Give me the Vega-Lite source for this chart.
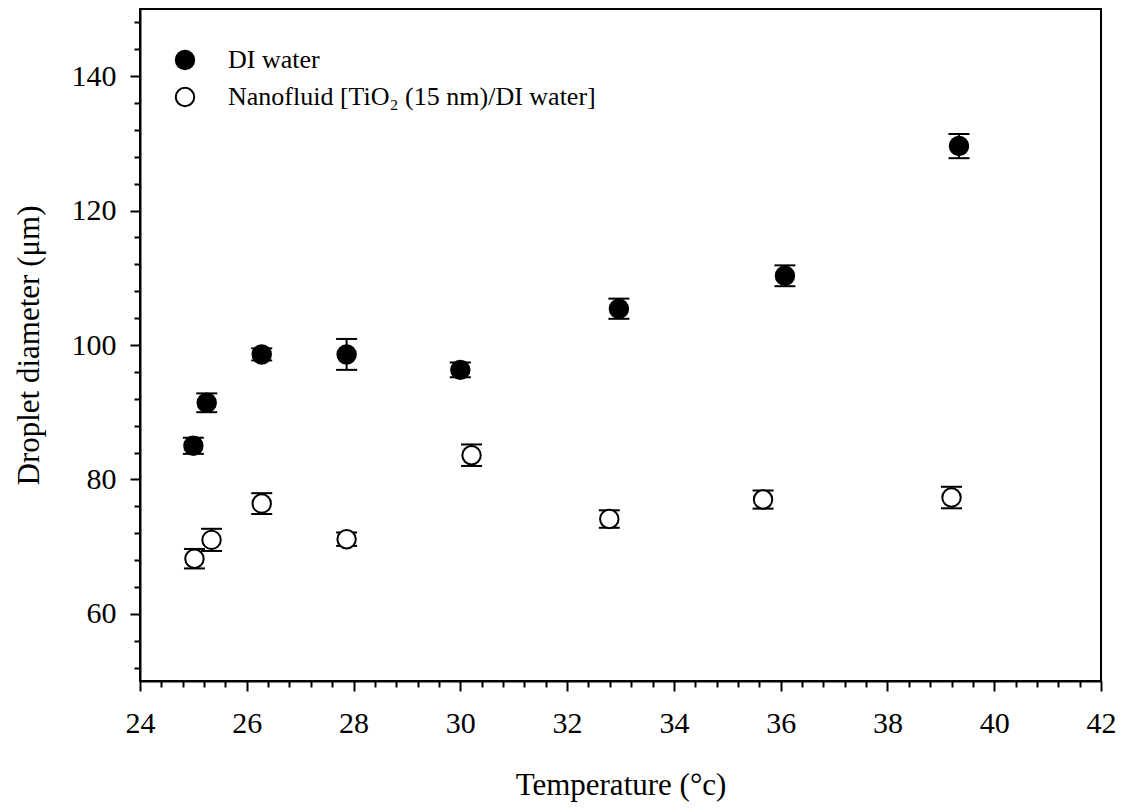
{
  "$schema": "https://vega.github.io/schema/vega-lite/v6.json",
  "autosize": "none",
  "width": 961,
  "height": 672,
  "padding": {"left": 140, "top": 9, "right": 21, "bottom": 127},
  "background": "white",
  "config": {
    "font": "Liberation Serif",
    "view": {"stroke": "black", "strokeWidth": 2},
    "axis": {"grid": false, "domainColor": "black", "domainWidth": 2, "tickColor": "black", "tickWidth": 2, "labelColor": "black", "titleColor": "black", "labelFont": "Liberation Serif", "titleFont": "Liberation Serif", "labelFontSize": 30, "titleFontSize": 31, "titleFontWeight": "normal", "labelOverlap": false, "labelBound": false, "labelFlush": false}
  },
  "data": {"values": [
    {"series": "DI water", "temp": 25.0, "d": 85.0, "lo": 83.8, "hi": 86.2},
    {"series": "DI water", "temp": 25.25, "d": 91.4, "lo": 90.0, "hi": 92.8},
    {"series": "DI water", "temp": 26.28, "d": 98.6, "lo": 97.7, "hi": 99.5},
    {"series": "DI water", "temp": 27.87, "d": 98.6, "lo": 96.3, "hi": 100.9},
    {"series": "DI water", "temp": 30.0, "d": 96.3, "lo": 95.2, "hi": 97.4},
    {"series": "DI water", "temp": 32.97, "d": 105.4, "lo": 103.9, "hi": 106.9},
    {"series": "DI water", "temp": 36.08, "d": 110.3, "lo": 108.75, "hi": 111.85},
    {"series": "DI water", "temp": 39.34, "d": 129.6, "lo": 127.8, "hi": 131.4},
    {"series": "Nanofluid [TiO₂ (15 nm)/DI water]", "temp": 25.02, "d": 68.2, "lo": 66.75, "hi": 69.65},
    {"series": "Nanofluid [TiO₂ (15 nm)/DI water]", "temp": 25.34, "d": 71.0, "lo": 69.35, "hi": 72.65},
    {"series": "Nanofluid [TiO₂ (15 nm)/DI water]", "temp": 26.28, "d": 76.4, "lo": 74.85, "hi": 77.95},
    {"series": "Nanofluid [TiO₂ (15 nm)/DI water]", "temp": 27.87, "d": 71.1, "lo": 70.1, "hi": 72.1},
    {"series": "Nanofluid [TiO₂ (15 nm)/DI water]", "temp": 30.21, "d": 83.6, "lo": 82.0, "hi": 85.2},
    {"series": "Nanofluid [TiO₂ (15 nm)/DI water]", "temp": 32.79, "d": 74.1, "lo": 72.8, "hi": 75.4},
    {"series": "Nanofluid [TiO₂ (15 nm)/DI water]", "temp": 35.67, "d": 77.0, "lo": 75.65, "hi": 78.35},
    {"series": "Nanofluid [TiO₂ (15 nm)/DI water]", "temp": 39.2, "d": 77.3, "lo": 75.7, "hi": 78.9}
  ]},
  "resolve": {"axis": {"y": "independent"}},
  "encoding": {
    "x": {"field": "temp", "type": "quantitative", "scale": {"domain": [24, 42], "nice": false, "zero": false},
      "axis": {"title": "Temperature (°c)", "values": [24,24.4,24.8,25.2,25.6,26,26.4,26.8,27.2,27.6,28,28.4,28.8,29.2,29.6,30,30.4,30.8,31.2,31.6,32,32.4,32.8,33.2,33.6,34,34.4,34.8,35.2,35.6,36,36.4,36.8,37.2,37.6,38,38.4,38.8,39.2,39.6,40,40.4,40.8,41.2,41.6,42],
        "labelExpr": "abs(datum.value - round(datum.value/2)*2) < 0.01 ? format(datum.value, 'd') : ''",
        "tickSize": {"condition": {"test": "abs(datum.value - round(datum.value/2)*2) < 0.01", "value": 10}, "value": 6},
        "labelOverlap": false,
        "labelPadding": 17, "titlePadding": 32}}
  },
  "layer": [
    {
      "mark": {"type": "rule", "color": "black", "strokeWidth": 2, "opacity": 1},
      "encoding": {"y": {"field": "lo", "type": "quantitative", "scale": {"domain": [50, 150], "nice": false, "zero": false},
          "axis": {"title": "Droplet diameter (μm)", "orient": "left", "values": [60, 80, 100, 120, 140], "tickSize": 10, "labelPadding": 14, "titlePadding": 26}},
        "y2": {"field": "hi"}}
    },
    {
      "mark": {"type": "tick", "orient": "horizontal", "color": "black", "size": 21, "thickness": 2, "opacity": 1},
      "encoding": {"y": {"field": "lo", "type": "quantitative",
          "axis": {"title": null, "orient": "left", "values": [52,56,64,68,72,76,84,88,92,96,104,108,112,116,124,128,132,136,144,148], "tickSize": 6, "labels": false, "domain": false}}}
    },
    {
      "mark": {"type": "tick", "orient": "horizontal", "color": "black", "size": 21, "thickness": 2, "opacity": 1},
      "encoding": {"y": {"field": "hi", "type": "quantitative", "axis": null}}
    },
    {
      "mark": {"type": "point", "shape": "circle", "filled": true, "size": 340, "stroke": "black", "strokeWidth": 2, "opacity": 1},
      "encoding": {
        "y": {"field": "d", "type": "quantitative", "axis": null},
        "fill": {"field": "series", "type": "nominal", "scale": {"domain": ["DI water", "Nanofluid [TiO₂ (15 nm)/DI water]"], "range": ["black", "white"]},
          "legend": {"title": null, "orient": "none", "legendX": 32, "legendY": 38, "padding": 0, "labelFont": "Liberation Serif", "labelFontSize": 26, "labelColor": "black", "labelLimit": 0, "labelOffset": 30, "symbolSize": 340, "symbolStrokeColor": "black", "symbolStrokeWidth": 2, "symbolType": "circle", "rowPadding": 9}}
      }
    }
  ]
}
